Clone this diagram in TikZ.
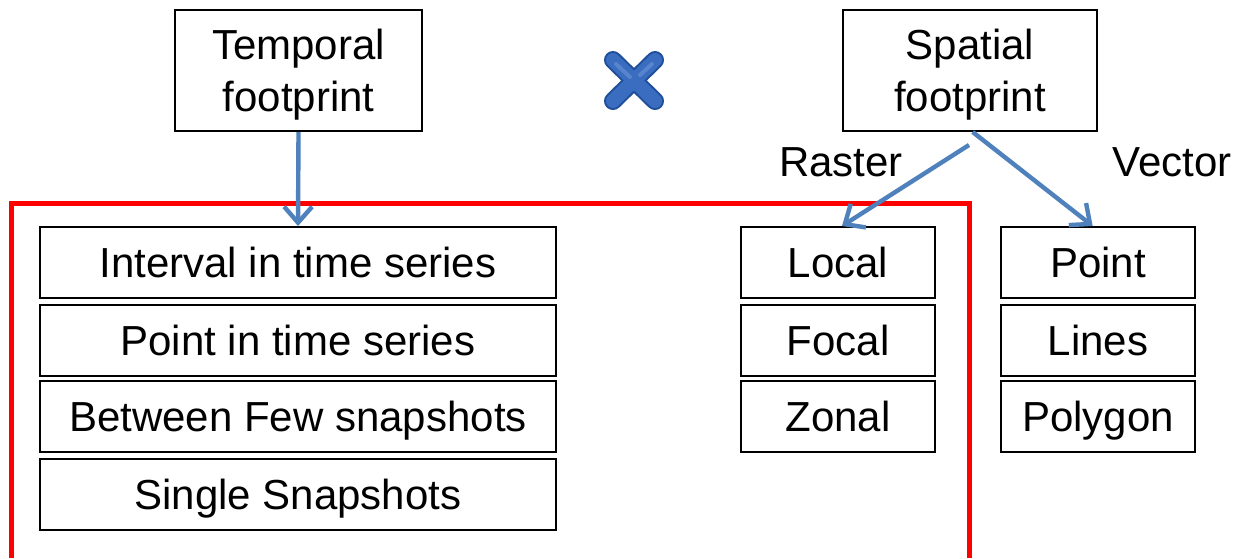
\documentclass[tikz,border=0pt]{standalone}
\usepackage{fontspec}
\setmainfont{Liberation Sans}
\usetikzlibrary{arrows.meta}
\definecolor{arrowblue}{HTML}{4F81BD}
\definecolor{xdark}{HTML}{1F4E9A}
\definecolor{xmid}{HTML}{3A6CC0}
\definecolor{xlight}{HTML}{6D93D6}
\tikzset{
  box/.style={draw=black, line width=1.5pt, inner sep=0pt, align=center,
    font=\fontsize{31.5}{39}\selectfont, minimum height=53.25pt, text depth=0pt},
  leftbox/.style={box, minimum width=387pt},
  rightbox/.style={box, minimum width=145.5pt},
  headbox/.style={box, minimum height=90.75pt},
  blueArrow/.style={draw=arrowblue, line width=3.3pt,
    -{Straight Barb[length=12pt,width=21pt,line width=3.3pt]}},
  lbl/.style={font=\fontsize{31.5}{39}\selectfont, inner sep=0pt},
}
\begin{document}
\begin{tikzpicture}[x=0.75pt,y=-0.75pt]
\useasboundingbox (0,0) rectangle (1234,558);
\fill[white] (0,0) rectangle (1234,558);
% red frame (open at the bottom)
\draw[red, line width=3.75pt, line join=miter] (11,558) -- (11,203) -- (969,203) -- (969,558);
% header boxes
\node[headbox, minimum width=185.25pt] (T) at (298.5,70.5) {Temporal\\footprint};
\node[headbox, minimum width=190.5pt] (S) at (970,70.5) {Spatial\\footprint};
% temporal list
\node[leftbox] (I) at (298,262.5) {Interval in time series};
\node[leftbox] (P) at (298,340) {Point in time series};
\node[leftbox] (B) at (298,416.5) {Between Few snapshots};
\node[leftbox] (SS) at (298,494) {Single Snapshots};
% raster list
\node[rightbox] (L) at (838,262.5) {Local};
\node[rightbox] (F) at (838,340) {Focal};
\node[rightbox] (Z) at (838,416.5) {Zonal};
% vector list
\node[rightbox] (PT) at (1098,262.5) {Point};
\node[rightbox] (LN) at (1098,340) {Lines};
\node[rightbox] (PG) at (1098,416.5) {Polygon};
% labels
\node[lbl] (R) at (841,162) {Raster};
\node[lbl] (V) at (1172,162) {Vector};
% arrows
\draw[blueArrow] (T.south) -- (I.north);
\coordinate (sl) at (969,145);
\draw[blueArrow] (sl) -- ([xshift=3pt]L.north);
\draw[blueArrow] ([xshift=2pt]S.south) -- ([xshift=-4pt]PT.north);
% cross mark
\coordinate (xa) at (613,60);
\coordinate (xb) at (655,101);
\coordinate (xc) at (655,60);
\coordinate (xd) at (613,101);
\draw[xdark, line width=13.5pt, line cap=round] (xa) -- (xb) (xc) -- (xd);
\draw[xmid, line width=10.5pt, line cap=round] (xa) -- (xb) (xc) -- (xd);
\draw[xlight, line width=3pt, line cap=round, opacity=0.6] (616,64) -- (630,77) (652,64) -- (640,75);
\end{tikzpicture}
\end{document}
